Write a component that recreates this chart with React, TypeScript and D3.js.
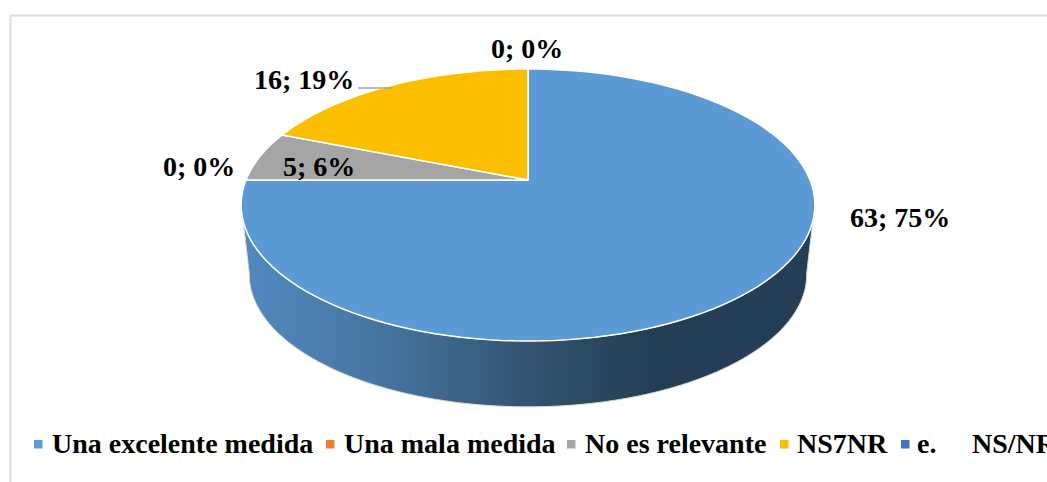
import React from "react";
import * as d3 from "d3";

const categories = ["Una excelente medida", "Una mala medida", "No es relevante", "NS7NR", "e.     NS/NR"];
const values = [63, 0, 5, 16, 0];
const percents = [75, 0, 6, 19, 0];
const colors = ["#5b9ad5", "#ed7d31", "#a5a5a5", "#fcbf00", "#4472c4"];

const W = 1047, H = 482;
const labelPos = [
  { x: 850, y: 227 },
  { x: 163, y: 176 },
  { x: 283, y: 176 },
  { x: 254, y: 89 },
  { x: 491, y: 58 },
];
const legendSquareX = [34, 326, 567, 780, 901];
const legendTextX = [52, 344, 585, 797, 917];

const persp = 0.1838;
const project = (theta: number, cx: number, cy: number, a: number, c: number): [number, number] => {
  const u = Math.sin(theta), v = Math.cos(theta);
  const d = 1 + persp * v;
  return [cx + (a * u) / d, cy - (c * v) / d];
};
const top = (t: number) => project(t, 528, 180, 282, 131.4);
const bottom = (t: number) => project(t, 528, 250, 274, 128);
const samples = (a: number, b: number) => d3.range(0, 121).map((i) => a + ((b - a) * i) / 120);
const line = d3.line();

export default function App() {
  const arcs = d3.pie<number>().sort(null)(values);
  const wallA = (100 * Math.PI) / 180, wallB = (260 * Math.PI) / 180;
  const wallPath =
    line([...samples(wallA, wallB).map(top), ...samples(wallB, wallA).map(bottom)]) + "Z";
  const family = "'Liberation Serif', serif";
  return (
    <svg width={W} height={H} viewBox={`0 0 ${W} ${H}`} style={{ position: "fixed", left: 0, top: 0, background: "#fff" }}>
      <defs>
        <linearGradient id="wall" gradientUnits="userSpaceOnUse" x1={243} x2={815} y1={0} y2={0}>
          <stop offset="0" stopColor="#5289bf" />
          <stop offset="0.27" stopColor="#44729c" />
          <stop offset="0.5" stopColor="#33536f" />
          <stop offset="0.71" stopColor="#243f55" />
          <stop offset="1" stopColor="#243f55" />
        </linearGradient>
      </defs>
      <path d={`M${W},15.5H10.5V${H}`} fill="none" stroke="#dcdcdc" strokeWidth={2} />
      <path d={wallPath} fill="url(#wall)" stroke="#d9d9d9" strokeWidth={1} />
      {arcs.map((a, i) =>
        a.endAngle > a.startAngle ? (
          <path
            key={i}
            d={line([[528, 180], ...samples(a.startAngle, a.endAngle).map(top)]) + "Z"}
            fill={colors[i]}
            stroke="#fff"
            strokeWidth={1.5}
            strokeLinejoin="round"
          />
        ) : null
      )}
      <line x1={358} x2={392} y1={88} y2={88} stroke="#a6a6a6" strokeWidth={1.5} />
      {values.map((v, i) => (
        <text key={i} x={labelPos[i].x} y={labelPos[i].y} fontFamily={family} fontWeight="bold" fontSize={28} fill="#000">
          {`${v}; ${percents[i]}%`}
        </text>
      ))}
      {categories.map((c, i) => (
        <g key={c}>
          <rect x={legendSquareX[i]} y={440} width={8.5} height={8.5} fill={colors[i]} />
          <text x={legendTextX[i]} y={453} fontFamily={family} fontWeight="bold" fontSize={28} fill="#000">
            {c.startsWith("e.") ? "e." : c}
          </text>
        </g>
      ))}
      <text x={972} y={453} fontFamily={family} fontWeight="bold" fontSize={28} fill="#000">
        {categories[4].replace("e.", "").trim()}
      </text>
    </svg>
  );
}
